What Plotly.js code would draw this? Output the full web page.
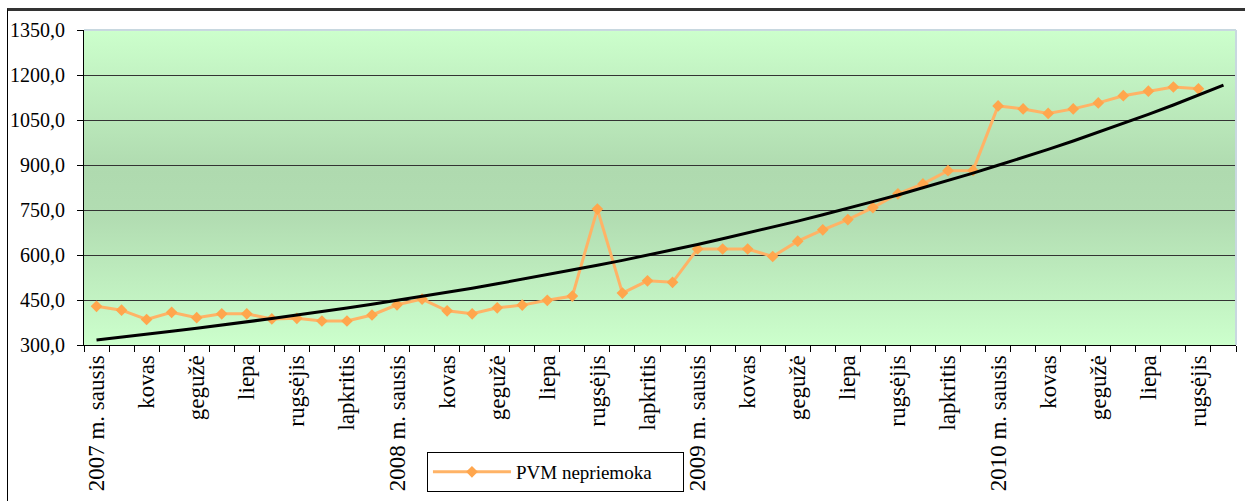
<!DOCTYPE html>
<html>
<head>
<meta charset="utf-8">
<script src="https://cdn.plot.ly/plotly-3.0.1.min.js"></script>
<style>
  html, body { margin: 0; padding: 0; background: #ffffff; }
  #wrap { position: relative; width: 1245px; height: 501px; overflow: hidden; }
  #frame { position: absolute; left: 7px; top: 8px; width: 1250px; height: 510px;
           border-left: 1px solid #000; border-top: 3px solid #333; box-sizing: border-box; pointer-events: none; }
  #chart { position: absolute; left: 0; top: 0; width: 1245px; height: 501px; }
</style>
</head>
<body>
<div id="wrap">
  <div id="frame"></div>
  <div id="chart"></div>
</div>
<script>
// Months (2007-01 .. 2010-10)
const months = [
  "2007-01","2007-02","2007-03","2007-04","2007-05","2007-06","2007-07","2007-08","2007-09","2007-10","2007-11","2007-12",
  "2008-01","2008-02","2008-03","2008-04","2008-05","2008-06","2008-07","2008-08","2008-09","2008-10","2008-11","2008-12",
  "2009-01","2009-02","2009-03","2009-04","2009-05","2009-06","2009-07","2009-08","2009-09","2009-10","2009-11","2009-12",
  "2010-01","2010-02","2010-03","2010-04","2010-05","2010-06","2010-07","2010-08","2010-09","2010-10"
];

// Tick labels (every second month)
const tickLabels = [
  "2007 m. sausis","kovas","gegužė","liepa","rugsėjis","lapkritis",
  "2008 m. sausis","kovas","gegužė","liepa","rugsėjis","lapkritis",
  "2009 m. sausis","kovas","gegužė","liepa","rugsėjis","lapkritis",
  "2010 m. sausis","kovas","gegužė","liepa","rugsėjis"
];

// PVM nepriemoka (2007-01 .. 2010-09)
const pvmNepriemoka = [
  429, 416, 385, 409, 391, 404, 404, 387, 389, 380, 380, 400,
  434, 453, 414, 404, 424, 433, 449, 463, 753, 473, 514, 509,
  620, 620, 620, 595, 646, 684, 718, 758, 804, 837, 881, 882,
  1097, 1087, 1072, 1087, 1107, 1131, 1146, 1160, 1154
];

// Trend line (2007-01 .. 2010-10)
const trend = [
  317, 326, 336, 346, 356, 366, 377, 388, 400, 411, 423, 436,
  449, 462, 475, 489, 504, 519, 534, 549, 566, 582, 599, 617,
  635, 654, 673, 693, 713, 734, 755, 778, 800, 824, 848, 873,
  899, 925, 952, 980, 1009, 1038, 1069, 1100, 1133, 1166
];

const yTicks = [300, 450, 600, 750, 900, 1050, 1200, 1350];

const idx = months.map((m, i) => i);
const labelIdx = tickLabels.map((t, k) => 2 * k);

const SERIF = '"Liberation Serif", "Times New Roman", Times, serif';

const gradSvg = '<svg xmlns="http://www.w3.org/2000/svg" width="100" height="100" preserveAspectRatio="none">' +
  '<defs><linearGradient id="g" x1="0" y1="0" x2="0" y2="1">' +
  '<stop offset="0" stop-color="#CCFFCC"/>' +
  '<stop offset="0.45" stop-color="#AFDAAF"/>' +
  '<stop offset="0.6" stop-color="#B2DDB2"/>' +
  '<stop offset="1" stop-color="#CCFFCC"/>' +
  '</linearGradient></defs><rect width="100" height="100" fill="url(#g)"/></svg>';
const gradUri = 'data:image/svg+xml;charset=utf-8,' + encodeURIComponent(gradSvg);

const traces = [
  {
    x: idx.slice(0, pvmNepriemoka.length),
    y: pvmNepriemoka,
    type: 'scatter',
    mode: 'lines+markers',
    name: 'PVM nepriemoka',
    line: { color: '#FFB366', width: 3 },
    marker: { symbol: 'diamond', size: 9, color: '#FFA64D' },
    showlegend: true
  },
  {
    x: idx,
    y: trend,
    type: 'scatter',
    mode: 'lines',
    name: 'trend',
    line: { color: '#000000', width: 3 },
    showlegend: false
  }
];

const layout = {
  width: 1245,
  height: 501,
  margin: { l: 84, r: 9, t: 30, b: 156 },
  paper_bgcolor: 'rgba(0,0,0,0)',
  plot_bgcolor: 'rgba(0,0,0,0)',
  separators: ',.',
  font: { family: SERIF, color: '#000' },
  images: [{
    source: gradUri, xref: 'paper', yref: 'paper', x: 0, y: 1, sizex: 1, sizey: 1,
    sizing: 'stretch', xanchor: 'left', yanchor: 'top', layer: 'below'
  }],
  xaxis: {
    type: 'linear',
    range: [-0.5, 45.5],
    tickmode: 'array',
    tickvals: labelIdx,
    ticktext: tickLabels,
    tickangle: -90,
    ticks: '',
    ticklen: 0,
    showgrid: false,
    zeroline: false,
    showline: true,
    linecolor: '#000',
    linewidth: 1,
    tickfont: { size: 23, family: SERIF, color: '#000' },
    minor: { tickmode: 'linear', tick0: -0.5, dtick: 1, ticks: 'outside', ticklen: 6, tickcolor: '#000', tickwidth: 1, showgrid: false }
  },
  yaxis: {
    range: [300, 1350],
    tickmode: 'array',
    tickvals: yTicks,
    tickformat: '.1f',
    ticks: 'outside',
    ticklen: 6,
    tickcolor: '#000',
    ticklabelstandoff: 8,
    showgrid: true,
    gridcolor: '#333333',
    gridwidth: 1,
    zeroline: false,
    showline: true,
    linecolor: '#000',
    linewidth: 1,
    tickfont: { size: 20, family: SERIF, color: '#000' }
  },
  shapes: [
    { type: 'line', xref: 'paper', yref: 'paper', x0: 0, x1: 1, y0: 1, y1: 1, line: { color: '#C8D8E0', width: 2 } },
    { type: 'line', xref: 'paper', yref: 'paper', x0: 1, x1: 1, y0: 0, y1: 1, line: { color: '#C8D8E0', width: 2 } }
  ],
  legend: {
    x: 0.2977, y: -0.3397, xanchor: 'left', yanchor: 'top',
    orientation: 'h',
    bgcolor: '#ffffff',
    bordercolor: '#000',
    borderwidth: 1,
    font: { size: 19, family: SERIF, color: '#000' },
    itemwidth: 78,
    entrywidth: 162
  }
};

Plotly.newPlot('chart', traces, layout, { displayModeBar: false, staticPlot: true });
</script>
</body>
</html>
